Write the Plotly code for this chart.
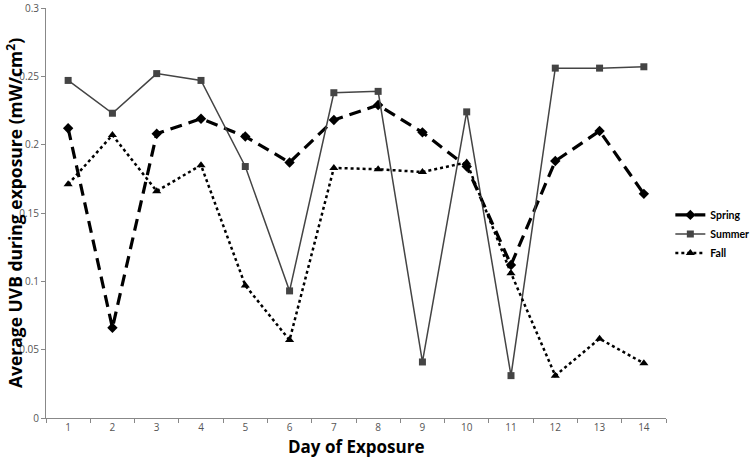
import plotly.graph_objects as go

days = [str(d) for d in range(1, 15)]
spring = [0.212, 0.066, 0.208, 0.219, 0.206, 0.187, 0.218, 0.229, 0.209, 0.184, 0.112, 0.188, 0.210, 0.164]
summer = [0.247, 0.223, 0.252, 0.247, 0.184, 0.093, 0.238, 0.239, 0.041, 0.224, 0.031, 0.256, 0.256, 0.257]
fall = [0.171, 0.207, 0.166, 0.185, 0.097, 0.057, 0.183, 0.182, 0.180, 0.187, 0.106, 0.031, 0.058, 0.040]
y_ticks = [0, 0.05, 0.1, 0.15, 0.2, 0.25, 0.3]
y_tick_text = ["0", "0.05", "0.1", "0.15", "0.2", "0.25", "0.3"]

fig = go.Figure()
fig.add_trace(go.Scatter(x=days, y=spring, name="Spring", mode="lines+markers",
                         line=dict(color="black", width=3.2, dash="12px,7px"),
                         marker=dict(symbol="diamond", size=8, color="black")))
fig.add_trace(go.Scatter(x=days, y=summer, name="Summer", mode="lines+markers",
                         line=dict(color="#444444", width=1.5),
                         marker=dict(symbol="square", size=7, color="#444444")))
fig.add_trace(go.Scatter(x=days, y=fall, name="Fall", mode="lines+markers",
                         line=dict(color="black", width=2.5, dash="dot"),
                         marker=dict(symbol="triangle-up", size=8, color="black")))

fig.update_layout(
    width=750, height=462,
    margin=dict(l=46, r=84, t=8, b=44, autoexpand=False),
    paper_bgcolor="white", plot_bgcolor="white",
    font=dict(family="Open Sans, Liberation Sans, sans-serif", color="#555555"),
    showlegend=True,
    legend=dict(x=1.007, y=0.449, xanchor="left", yanchor="middle",
                font=dict(family="Lato, Open Sans, sans-serif", size=10.5, color="black", weight="bold"),
                itemwidth=30, tracegroupgap=0, bgcolor="rgba(0,0,0,0)"),
    xaxis=dict(type="category", range=[-0.5, 13.5], tickson="boundaries", ticks="outside", ticklen=4,
               tickcolor="#888888", showline=True, linecolor="#888888", linewidth=1,
               showgrid=False, zeroline=False, tickfont=dict(size=10, color="#555555"),
               automargin=False),
    yaxis=dict(range=[0, 0.3], tickvals=y_ticks, ticktext=y_tick_text, ticks="outside", ticklen=4,
               tickcolor="#888888", showline=True, linecolor="#888888", linewidth=1,
               showgrid=False, zeroline=False, tickfont=dict(size=10, color="#555555"),
               automargin=False),
    annotations=[
        dict(text="<b>Day of Exposure</b>", xref="paper", yref="paper", x=0.5, y=-0.0683,
             xanchor="center", yanchor="middle", showarrow=False,
             font=dict(size=17, color="black")),
        dict(text="<b>Average UVB during exposure (mW/cm<sup>2</sup>)</b>", xref="paper", yref="paper",
             x=-0.0515, y=0.5, xanchor="center", yanchor="middle", textangle=-90, showarrow=False,
             font=dict(size=17.5, color="black")),
    ],
)

fig.write_html("out.html", config={"displayModeBar": False},
               post_script="document.body.style.margin='0';")
